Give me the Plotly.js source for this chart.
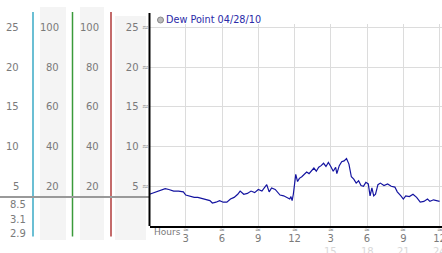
<!DOCTYPE html>
<html>
<head>
<meta charset="utf-8">
<script src="https://cdn.plot.ly/plotly-3.0.1.min.js"></script>
<style>html,body{margin:0;padding:0;background:#fff;}#chart{width:442px;height:253px;}</style>
</head>
<body>
<div id="chart"></div>
<script>
// ---- data ----
const chartTitle = "Dew Point 04/28/10";
const hours = [0,0.5,1.0,1.3,1.6,2.0,2.4,2.8,3.0,3.3,3.7,4.0,4.4,4.8,5.0,5.2,5.5,5.8,6.1,6.4,6.7,7.0,7.3,7.5,7.8,8.1,8.4,8.7,9.0,9.3,9.6,9.7,9.9,10.1,10.4,10.8,11.1,11.4,11.6,11.7,11.8,11.9,12.0,12.1,12.25,12.4,12.6,12.8,13.0,13.2,13.4,13.6,13.8,14.0,14.2,14.4,14.6,14.8,15.0,15.2,15.4,15.5,15.7,15.9,16.1,16.3,16.5,16.7,16.9,17.1,17.3,17.5,17.7,17.9,18.1,18.25,18.4,18.55,18.7,18.9,19.1,19.4,19.7,20.0,20.3,20.5,20.8,21.0,21.2,21.5,21.8,22.1,22.4,22.7,23.0,23.2,23.5,23.8,24.0];
const dewPoint = [4.0,4.3,4.6,4.7,4.6,4.4,4.4,4.3,3.9,3.8,3.6,3.6,3.4,3.2,3.2,2.9,3.0,3.2,3.0,3.0,3.4,3.6,4.0,4.4,4.0,4.1,4.4,4.2,4.6,4.4,4.9,5.2,4.3,4.8,4.6,3.9,3.8,3.6,3.4,3.7,3.2,4.0,5.5,6.5,5.6,6.0,6.2,6.5,6.8,6.6,7.0,7.3,6.9,7.4,7.6,7.9,7.5,8.0,7.5,6.9,7.4,6.6,7.6,8.1,8.2,8.5,7.8,6.2,5.9,5.4,5.7,5.1,5.0,5.5,5.3,3.8,4.8,3.8,4.0,5.2,5.4,5.1,5.3,5.0,4.9,4.3,3.8,3.4,3.8,3.7,4.0,3.6,3.0,3.1,3.4,3.1,3.3,3.2,3.1];
const xTickVals = [3,6,9,12,15,18,21,24];
const xTickText = ["3","6","9","12","3","6","9","12"];
const xTick2Vals = [15,18,21,24];
const xTick2Text = ["15","18","21","24"];
const yTickVals = [5,10,15,20,25];
const yTickText = ["5","10","15","20","25"];
const col1Text = ["5","10","15","20","25"];
const col2Text = ["20","40","60","80","100"];
const col3Text = ["20","40","60","80","100"];
const statsText = ["8.5","3.1","2.9"];
const currentValue = 3.65;

// ---- layout helpers (pixels -> paper) ----
const W = 442, H = 253;
const px = x => x / W;
const py = y => 1 - y / H;
const font = "DejaVu Sans, Verdana, sans-serif";
const gray = "#7a7a7a";

const shapes = [];
const annotations = [];

// background bands
[[40,66,7],[80,104,7],[115,146,16]].forEach(b => {
  shapes.push({type:'rect', xref:'paper', yref:'paper', x0:px(b[0]), x1:px(b[1]), y0:py(b[2]), y1:py(240), fillcolor:'#f4f4f4', line:{width:0}, layer:'below'});
});
// colored vertical lines
[[33,'#3aaac6'],[72.5,'#3a9a3a'],[111,'#b03a3a']].forEach(l => {
  shapes.push({type:'line', xref:'paper', yref:'paper', x0:px(l[0]), x1:px(l[0]), y0:py(12), y1:py(236.5), line:{color:l[1], width:1.5}});
});
// current value gray line
shapes.push({type:'line', xref:'paper', yref:'y', x0:0, x1:px(149), y0:currentValue, y1:currentValue, line:{color:'#999', width:2}});
// black left axis
shapes.push({type:'line', xref:'paper', yref:'paper', x0:px(149.5), x1:px(149.5), y0:py(13), y1:py(226), line:{color:'#000', width:2}});
// title bullet
shapes.push({type:'circle', xref:'paper', yref:'paper', x0:px(157.5), x1:px(163.5), y0:py(17), y1:py(23), fillcolor:'#bbbbbb', line:{color:'#888', width:1}});

// left column labels
yTickVals.forEach((v,i) => {
  annotations.push({xref:'paper', yref:'y', x:px(21), y:v, text:col1Text[i], showarrow:false, xanchor:'right', yanchor:'middle', font:{family:font, size:10, color:gray}});
  annotations.push({xref:'paper', yref:'y', x:px(61), y:v, text:col2Text[i], showarrow:false, xanchor:'right', yanchor:'middle', font:{family:font, size:10, color:gray}});
  annotations.push({xref:'paper', yref:'y', x:px(101), y:v, text:col3Text[i], showarrow:false, xanchor:'right', yanchor:'middle', font:{family:font, size:10, color:gray}});
  annotations.push({xref:'paper', yref:'y', x:px(145.5), y:v, text:'≈', showarrow:false, xanchor:'center', yanchor:'middle', font:{family:font, size:8, color:'#888'}});
});
// stats
[204,219,233].forEach((y,i) => {
  annotations.push({xref:'paper', yref:'paper', x:px(28), y:py(y), text:statsText[i], showarrow:false, xanchor:'right', yanchor:'middle', font:{family:font, size:10, color:gray}});
});
// x marks
xTickVals.forEach(v => {
  annotations.push({xref:'x', yref:'paper', x:v, y:py(230), text:'≈', showarrow:false, xanchor:'center', yanchor:'middle', font:{family:font, size:7, color:'#888'}});
});
xTick2Vals.forEach((v,i) => {
  annotations.push({xref:'x', yref:'paper', x:v, y:py(251.5), text:xTick2Text[i], showarrow:false, xanchor:'center', yanchor:'middle', font:{family:font, size:10, color:'#d8d8d8'}});
});
annotations.push({xref:'paper', yref:'paper', x:px(152), y:py(232), text:'Hours', showarrow:false, xanchor:'left', yanchor:'middle', font:{family:font, size:9, color:gray}});
annotations.push({xref:'paper', yref:'paper', x:px(164), y:py(20), text:chartTitle, showarrow:false, xanchor:'left', yanchor:'middle', font:{family:font, size:9.7, color:'#2a2aa8'}});

const trace = {x:hours, y:dewPoint, type:'scatter', mode:'lines', line:{color:'#1414a0', width:1.2}, hoverinfo:'skip'};

const layout = {
  width:W, height:H,
  margin:{l:0,r:0,t:0,b:0},
  paper_bgcolor:'#fff', plot_bgcolor:'#fff',
  showlegend:false,
  xaxis:{domain:[px(149.5),1], range:[0,24.2], tickvals:xTickVals, ticktext:xTickText, showgrid:true, gridcolor:'#dcdcdc', gridwidth:1, zeroline:false, showline:true, linecolor:'#000', linewidth:2, ticks:'outside', ticklen:2, tickcolor:'rgba(0,0,0,0)', ticklabeloverflow:'allow', tickfont:{family:font, size:10, color:gray}, fixedrange:true},
  yaxis:{domain:[py(226),py(24)], range:[0,25.44], tickvals:yTickVals, ticktext:yTickText, showgrid:true, gridcolor:'#dcdcdc', gridwidth:1, zeroline:false, showline:false, ticks:'outside', ticklen:8, tickcolor:'rgba(0,0,0,0)', tickfont:{family:font, size:10, color:gray}, fixedrange:true},
  shapes:shapes,
  annotations:annotations
};
Plotly.newPlot('chart', [trace], layout, {staticPlot:true, displayModeBar:false});
</script>
</body>
</html>
